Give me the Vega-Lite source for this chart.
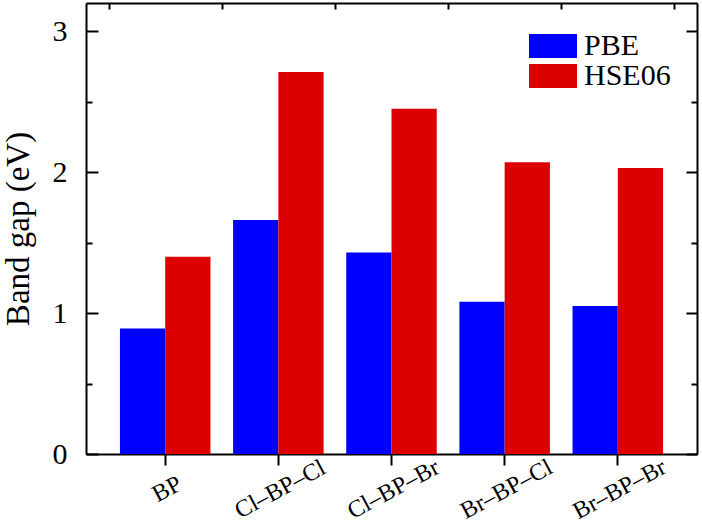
{
  "$schema": "https://vega.github.io/schema/vega-lite/v6.json",
  "width": 611,
  "height": 451,
  "autosize": {"type": "none"},
  "padding": {"left": 86, "top": 3, "right": 5, "bottom": 78},
  "config": {
    "view": {"stroke": null},
    "font": "Liberation Serif",
    "axis": {
      "domainColor": "black", "domainWidth": 2, "tickColor": "black", "tickWidth": 2,
      "labelColor": "black", "titleColor": "black", "labelFont": "Liberation Serif",
      "titleFont": "Liberation Serif", "grid": false, "titleFontWeight": "normal"
    }
  },
  "data": {"values": [
    {"system": "BP", "method": "PBE", "gap": 0.89},
    {"system": "BP", "method": "HSE06", "gap": 1.40},
    {"system": "Cl–BP–Cl", "method": "PBE", "gap": 1.66},
    {"system": "Cl–BP–Cl", "method": "HSE06", "gap": 2.71},
    {"system": "Cl–BP–Br", "method": "PBE", "gap": 1.43},
    {"system": "Cl–BP–Br", "method": "HSE06", "gap": 2.45},
    {"system": "Br–BP–Cl", "method": "PBE", "gap": 1.08},
    {"system": "Br–BP–Cl", "method": "HSE06", "gap": 2.07},
    {"system": "Br–BP–Br", "method": "PBE", "gap": 1.05},
    {"system": "Br–BP–Br", "method": "HSE06", "gap": 2.03}
  ]},
  "layer": [
    {
      "mark": {"type": "bar", "strokeWidth": 0},
      "encoding": {
        "x": {"field": "system", "type": "nominal", "sort": null,
          "scale": {"paddingInner": 0.2, "paddingOuter": 0.3},
          "axis": {"title": null, "labelAngle": -28, "labelAlign": "center", "labelBaseline": "middle",
            "labelFont": "Liberation Serif", "labelColor": "black",
            "labelFontSize": 24, "labelPadding": 24, "labelOffset": 2, "tickSize": 11}},
        "xOffset": {"field": "method", "type": "nominal", "sort": ["PBE", "HSE06"],
          "scale": {"paddingInner": 0, "paddingOuter": 0}},
        "y": {"field": "gap", "type": "quantitative",
          "scale": {"domain": [0, 3.2], "nice": false, "zero": true},
          "axis": {"title": "Band gap (eV)", "values": [0, 0.5, 1, 1.5, 2, 2.5, 3],
            "labelExpr": "datum.value % 1 === 0 ? format(datum.value, 'd') : ''",
            "labelFont": "Liberation Serif", "titleFont": "Liberation Serif", "labelColor": "black", "titleColor": "black",
            "tickSize": {"condition": {"test": "datum.value % 1 === 0", "value": -12}, "value": -6},
            "labelFontSize": 30, "labelPadding": 31, "titleFontSize": 33, "titleFontWeight": "normal", "titlePadding": 17}},
        "color": {"field": "method", "type": "nominal", "sort": ["PBE", "HSE06"],
          "scale": {"domain": ["PBE", "HSE06"], "range": ["#0000ff", "#dd0000"]},
          "legend": {"title": null, "orient": "none", "legendX": 452, "legendY": 28, "padding": 0,
            "symbolType": "M-2,-1H2V1H-2Z", "symbolSize": 576, "symbolStrokeWidth": 0, "symbolOpacity": 1,
            "labelFontSize": 30, "labelFont": "Liberation Serif", "labelColor": "black", "rowPadding": 0, "labelOffset": 16}}
      }
    },
    {
      "mark": {"type": "point", "opacity": 0},
      "encoding": {
        "x": {"datum": 1, "type": "quantitative",
          "scale": {"domain": [0.3, 5.7], "nice": false, "zero": false},
          "axis": {"orient": "top", "values": [0.5, 1.5, 2.5, 3.5, 4.5, 5.5], "labels": false, "tickSize": -6, "title": null}},
        "y": {"datum": 0, "type": "quantitative",
          "axis": {"orient": "right", "values": [0, 0.5, 1, 1.5, 2, 2.5, 3], "labels": false,
            "tickSize": {"condition": {"test": "datum.value % 1 === 0", "value": -11}, "value": -6}, "title": null}}
      }
    }
  ],
  "resolve": {"scale": {"x": "independent"}, "axis": {"x": "independent", "y": "independent"}}
}
